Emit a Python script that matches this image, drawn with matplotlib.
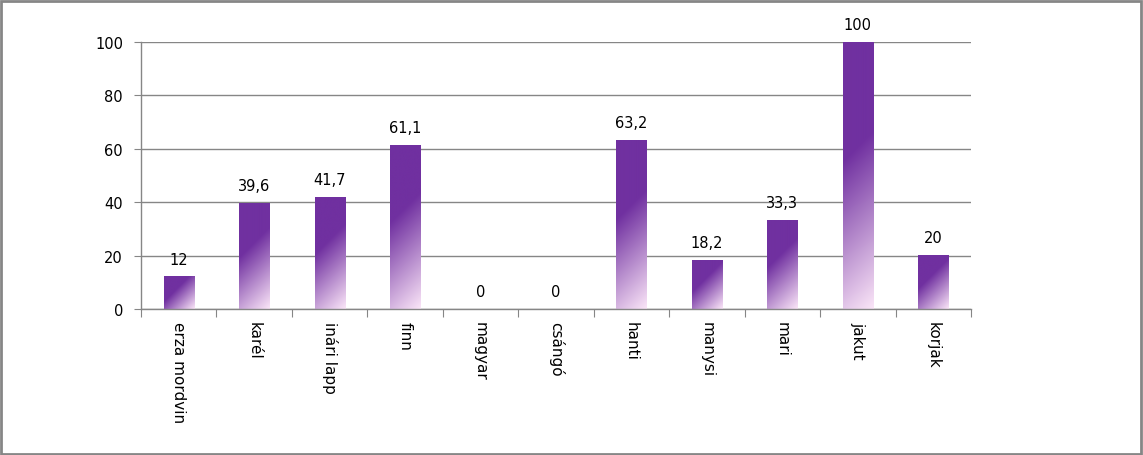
import numpy as np
import matplotlib
matplotlib.use("Agg")
import matplotlib.pyplot as plt
from matplotlib.patches import Rectangle
from matplotlib.colors import to_rgb

categories = ["erza mordvin", "karél", "inári lapp", "finn", "magyar", "csángó",
              "hanti", "manysi", "mari", "jakut", "korjak"]
values = [12, 39.6, 41.7, 61.1, 0, 0, 63.2, 18.2, 33.3, 100, 20]
labels = ["12", "39,6", "41,7", "61,1", "0", "0", "63,2", "18,2", "33,3", "100", "20"]
yticks = [0, 20, 40, 60, 80, 100]

W, H, DPI = 1143, 456, 100
fig = plt.figure(figsize=(W / DPI, H / DPI), dpi=DPI)
plt.rcParams['font.family'] = ['DejaVu Sans']

left, right, top, bottom = 141, 971, 43, 310
ax = fig.add_axes([left / W, 1 - bottom / H, (right - left) / W, (bottom - top) / H])
n = len(categories)
ax.set_xlim(-0.5, n - 0.5)
ax.set_ylim(0, 100)

grid_c = "#868686"
for s in ["top", "right"]:
    ax.spines[s].set_visible(False)
for s in ["left", "bottom"]:
    ax.spines[s].set_color(grid_c)
    ax.spines[s].set_linewidth(1.0)
ax.set_yticks(yticks)
ax.set_yticklabels([str(v) for v in yticks], fontsize=10.5, color="#000000")
ax.yaxis.grid(True, color=grid_c, linewidth=1.0)
ax.set_axisbelow(True)
ax.tick_params(axis="y", length=5, color=grid_c, pad=8)
ax.set_xticks(np.arange(-0.5, n, 1.0))
ax.set_xticklabels([])
ax.tick_params(axis="x", length=6, color=grid_c)

dark = np.array(to_rgb("#7030A0"))
light = np.array(to_rgb("#FBE6F8"))
bw = 0.4
for i, (v, lab) in enumerate(zip(values, labels)):
    if v > 0:
        x0, x1 = i - bw / 2, i + bw / 2
        p0 = ax.transData.transform((x0, 0))
        p1 = ax.transData.transform((x1, v))
        wp = max(p1[0] - p0[0], 1)
        hp = max(p1[1] - p0[1], 1)
        nx, ny = int(round(wp)) * 2, int(round(hp)) * 2
        u = np.linspace(0, 1, nx)[None, :] * wp
        vv = np.linspace(0, 1, ny)[:, None] * hp  # from top
        t = (u + vv) / (wp + hp)
        f = np.clip((t - 0.4) / (1 - 0.4), 0, 1)
        img = dark[None, None, :] * (1 - f[..., None]) + light[None, None, :] * f[..., None]
        ax.imshow(img, extent=(x0, x1, 0, v), origin="upper", aspect="auto",
                  interpolation="bilinear", zorder=2)
    ax.annotate(lab, (i, v), xytext=(0, 7.5), textcoords="offset points",
                ha="center", va="bottom", fontsize=10.5, color="#000000", zorder=3)
    ax.text(i, -0.045, categories[i], transform=ax.get_xaxis_transform(),
            rotation=-90, ha="center", va="top", fontsize=11, color="#000000")

ax.set_xlim(-0.5, n - 0.5)
ax.set_ylim(0, 100)

fig.patches.append(Rectangle((1 / W, 1 / H), (W - 3) / W, (H - 3) / H, transform=fig.transFigure,
                             fill=False, edgecolor="#868686", linewidth=2))
fig.savefig("out.png", dpi=DPI)
